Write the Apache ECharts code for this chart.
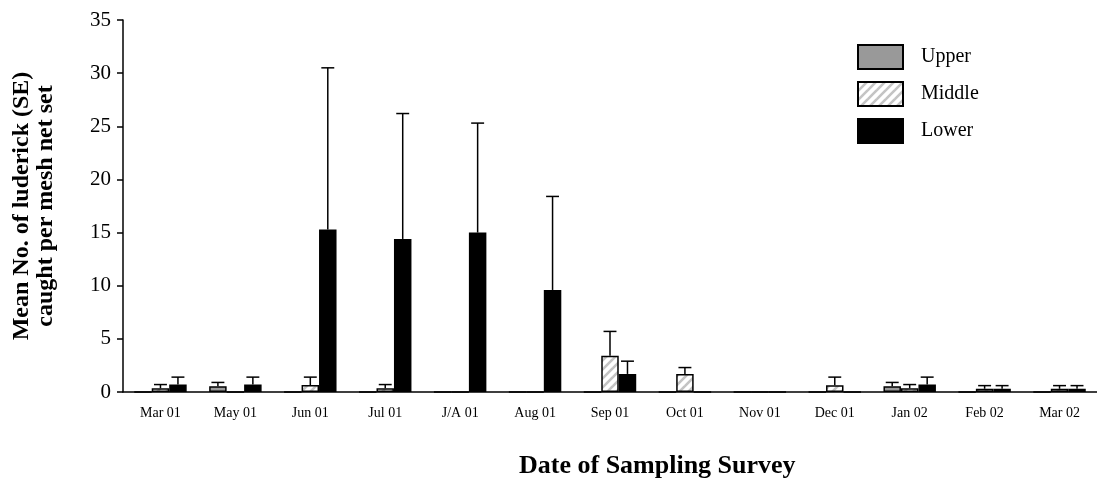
<!DOCTYPE html>
<html>
<head>
<meta charset="utf-8">
<script src="https://cdn.jsdelivr.net/npm/echarts@6/dist/echarts.min.js"></script>
<style>
html,body{margin:0;padding:0;background:#fff;}
#chart{width:1097px;height:481px;}
</style>
</head>
<body>
<div id="chart"></div>
<script>
var categories = ['Mar 01','May 01','Jun 01','Jul 01','J/A 01','Aug 01','Sep 01','Oct 01','Nov 01','Dec 01','Jan 02','Feb 02','Mar 02'];
var seriesNames = ['Upper','Middle','Lower'];
var upperMean  = [0, 0.55, 0, 0, 0, 0, 0, 0, 0, 0, 0.55, 0, 0];
var upperSE    = [0, 0.35, 0, 0, 0, 0, 0, 0, 0, 0, 0.35, 0, 0];
var middleMean = [0.35, 0, 0.65, 0.35, 0, 0, 3.4, 1.7, 0, 0.63, 0.35, 0.3, 0.3];
var middleSE   = [0.35, 0, 0.75, 0.35, 0, 0, 2.3, 0.6, 0, 0.77, 0.35, 0.3, 0.3];
var lowerMean  = [0.7, 0.7, 15.3, 14.4, 15.0, 9.6, 1.7, 0, 0, 0, 0.7, 0.3, 0.3];
var lowerSE    = [0.7, 0.7, 15.2, 11.8, 10.3, 8.8, 1.2, 0, 0, 0, 0.7, 0.3, 0.3];
var yTicks = [0, 5, 10, 15, 20, 25, 30, 35];

// hatch pattern for "Middle"
var pc = document.createElement('canvas');
pc.width = 9; pc.height = 9;
var g = pc.getContext('2d');
g.fillStyle = '#ffffff'; g.fillRect(0,0,9,9);
g.strokeStyle = '#c4c4c4'; g.lineWidth = 2.6;
[[-9,9],[0,9],[9,9]].forEach(function(o){
  g.beginPath(); g.moveTo(o[0]-1, o[1]+1); g.lineTo(o[0]+10, o[1]-10); g.stroke();
});
var hatch = {image: pc, repeat: 'repeat'};

var fills = ['#999999', hatch, '#000000'];
var means = [upperMean, middleMean, lowerMean];
var ses = [upperSE, middleSE, lowerSE];
var FONT = '"Liberation Serif", "Times New Roman", serif';

function errRender(idx){
  return function(params, api){
    var ci = api.value(0), v = api.value(1), se = api.value(2);
    if (!(se > 0)) return null;
    var bw = api.size([1, 0])[0] * 0.7 / 3;
    var b = api.coord([ci, v]);
    var t = api.coord([ci, v + se]);
    var x = b[0] + (idx - 1) * bw;
    var h = bw * 0.37;
    var st = {stroke: '#000', lineWidth: 1.5};
    return {type: 'group', children: [
      {type: 'line', shape: {x1: x, y1: b[1], x2: x, y2: t[1]}, style: st},
      {type: 'line', shape: {x1: x - h, y1: t[1], x2: x + h, y2: t[1]}, style: st}
    ]};
  };
}

var series = [];
seriesNames.forEach(function(n, i){
  series.push({
    name: n, type: 'bar', data: means[i],
    barGap: '0%', barCategoryGap: '30%',
    itemStyle: {color: fills[i], borderColor: '#000', borderWidth: 1.5},
    emphasis: {disabled: true}, z: 2
  });
});
seriesNames.forEach(function(n, i){
  series.push({
    name: n + ' SE', type: 'custom', renderItem: errRender(i),
    data: categories.map(function(c, k){ return [k, means[i][k], ses[i][k]]; }),
    z: 3, silent: true
  });
});

var chart = echarts.init(document.getElementById('chart'), null, {renderer: 'canvas'});
chart.setOption({
  animation: false,
  backgroundColor: '#fff',
  grid: {left: 123, top: 20, width: 980, height: 372, containLabel: false},
  title: {
    text: 'Date of Sampling Survey', left: 514, top: 448,
    textStyle: {fontFamily: FONT, fontWeight: 'bold', fontSize: 26, color: '#000'}
  },
  legend: {
    data: seriesNames, orient: 'vertical', left: 852, top: 39,
    itemWidth: 45, itemHeight: 24, itemGap: 11, icon: 'rect',
    textStyle: {fontFamily: FONT, fontSize: 20, color: '#000', padding: [0, 0, 0, 13]}
  },
  xAxis: {
    type: 'category', data: categories,
    axisLine: {lineStyle: {color: '#000', width: 1.5}},
    axisTick: {length: 6, lineStyle: {color: '#000', width: 1.5}},
    axisLabel: {fontFamily: FONT, fontSize: 14, color: '#000', margin: 14}
  },
  yAxis: {
    type: 'value', min: yTicks[0], max: yTicks[yTicks.length - 1], interval: 5,
    name: 'Mean No. of luderick (SE)\ncaught per mesh net set',
    nameLocation: 'middle', nameRotate: 90, nameGap: 65,
    nameTextStyle: {fontFamily: FONT, fontWeight: 'bold', fontSize: 24, lineHeight: 24, color: '#000'},
    axisLine: {show: true, lineStyle: {color: '#000', width: 1.5}},
    axisTick: {show: true, length: 6, lineStyle: {color: '#000', width: 1.5}},
    axisLabel: {fontFamily: FONT, fontSize: 21, color: '#000', margin: 12},
    splitLine: {show: false}
  },
  series: series
});
</script>
</body>
</html>
